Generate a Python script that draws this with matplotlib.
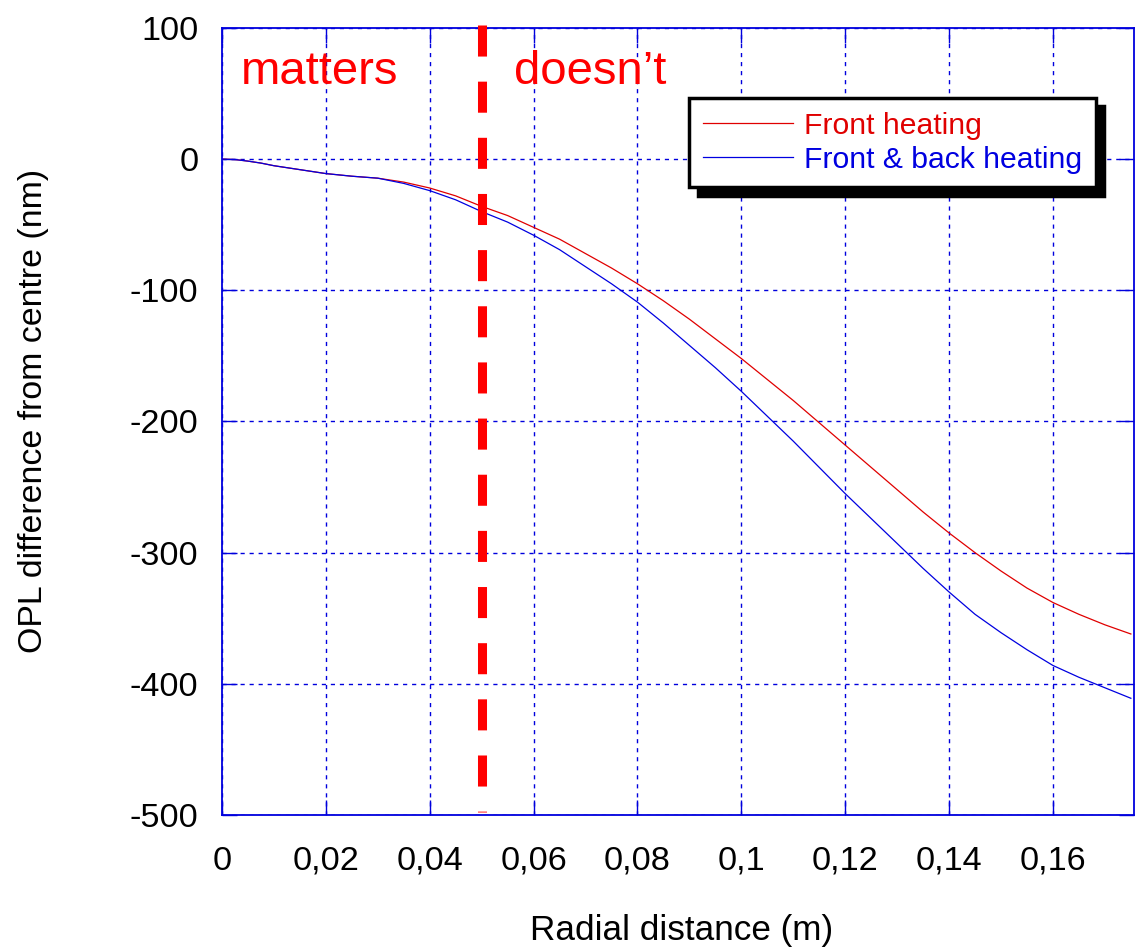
import matplotlib
matplotlib.use('Agg')
import matplotlib.pyplot as plt

plt.rcParams['font.family'] = ['Liberation Sans', 'DejaVu Sans']

# Радиальное расстояние (м) и разность OPL (нм)
radius = [0, 0.0025, 0.005, 0.0075, 0.01, 0.015, 0.02, 0.025, 0.03, 0.035,
          0.04, 0.045, 0.05, 0.055, 0.06, 0.065, 0.07, 0.075, 0.08, 0.085,
          0.09, 0.095, 0.1, 0.105, 0.11, 0.115, 0.12, 0.125, 0.13, 0.135,
          0.14, 0.145, 0.15, 0.155, 0.16, 0.165, 0.17, 0.175]
opl_front = [0, -0.3, -1.5, -3, -5, -8, -11, -13, -14.5, -17.5,
             -22, -28, -36, -43, -52, -61, -72, -83, -95, -108,
             -122, -137, -152, -168, -184, -201, -218, -235, -252, -269,
             -285, -300, -314, -327, -338, -347, -355, -362]
opl_front_back = [0, -0.3, -1.5, -3, -5, -8, -11, -13, -14.5, -18.5,
                  -24, -31, -40, -48, -58, -69, -82, -95, -109, -125,
                  -142, -159, -177, -196, -215, -235, -255, -274, -293, -312,
                  -330, -347, -361, -374, -386, -395, -403, -411]

x_ticks = [0, 0.02, 0.04, 0.06, 0.08, 0.1, 0.12, 0.14, 0.16]
x_tick_labels = ['0', '0,02', '0,04', '0,06', '0,08', '0,1', '0,12', '0,14', '0,16']
y_ticks = [100, 0, -100, -200, -300, -400, -500]
y_tick_labels = ['100', '0', '-100', '-200', '-300', '-400', '-500']

boundary_x = 0.05

fig = plt.figure(figsize=(11.35, 9.52), dpi=100)
ax = fig.add_axes([0.1956, 0.1439, 0.8035, 0.8267])

blue = '#0000dd'

ax.plot(radius, opl_front, color='#e00000', lw=0.9, label='Front heating')
ax.plot(radius, opl_front_back, color='#0000e0', lw=0.9, label='Front & back heating')

# Граница "matters / doesn't"
ax.plot([boundary_x, boundary_x], [102, -497.5], color='#ff0000', lw=6.5,
        dashes=(3.44, 2.78), solid_capstyle='butt', dash_capstyle='butt',
        clip_on=False, zorder=5)
ax.text(0.0036, 57, 'matters', color='#ff0000', fontsize=34, va='baseline')
ax.text(0.0563, 57, 'doesn\u2019t', color='#ff0000', fontsize=34, va='baseline')

ax.set_xlim(0, 0.1756)
ax.set_ylim(-500, 100)
ax.set_xticks(x_ticks)
ax.set_xticklabels(x_tick_labels)
ax.set_yticks(y_ticks)
ax.set_yticklabels(y_tick_labels)

ax.tick_params(direction='in', length=11, width=1, color=blue, labelsize=24.7,
               pad=17, top=True, right=True)
ax.tick_params(axis='x', pad=22)
for sp in ax.spines.values():
    sp.set_color(blue)
    sp.set_linewidth(1.3)

ax.grid(True, color=blue, lw=1, linestyle=(0, (3, 3.5)))
ax.set_axisbelow(True)

ax.set_xlabel('Radial distance (m)', fontsize=25.3)
ax.xaxis.set_label_coords(0.504, -0.126)
ax.set_ylabel('OPL difference from centre (nm)', fontsize=24.4)
ax.yaxis.set_label_coords(-0.19, 0.513)

leg = ax.legend(loc='upper left', bbox_to_anchor=(0.5126, 0.911), fontsize=21.7,
                labelcolor='linecolor', handlelength=3.0, handletextpad=0.35,
                labelspacing=0.2, borderpad=0.45, borderaxespad=0,
                fancybox=False, framealpha=1, edgecolor='black',
                shadow={'ox': 6, 'oy': -6, 'facecolor': 'black',
                        'edgecolor': 'black', 'alpha': 1})
leg.get_frame().set_linewidth(2.5)
leg.set_zorder(10)

fig.savefig('out.png', dpi=100, facecolor='white')
